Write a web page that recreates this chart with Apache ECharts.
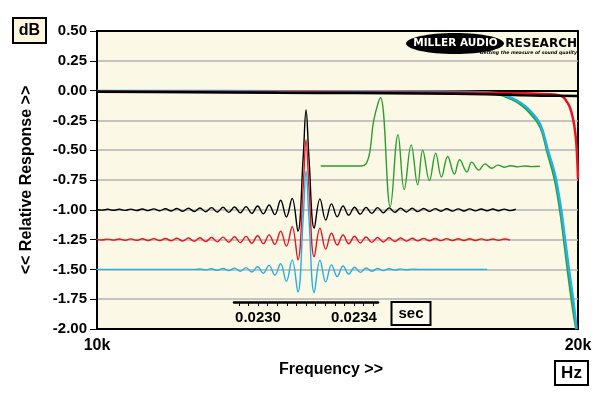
<!DOCTYPE html>
<html>
<head>
<meta charset="utf-8">
<title>Relative Response</title>
<script src="https://cdn.jsdelivr.net/npm/echarts@6/dist/echarts.min.js"></script>
<style>
html, body { margin: 0; padding: 0; background: #fff; }
#chart { width: 600px; height: 399px; }
</style>
</head>
<body>
<div id="chart"></div>
<script>
// frequency responses, Hz / dB
var cyanFreq = [10000, 12000, 14000, 16000, 17000, 17400, 17800, 18000, 18200, 18400, 18600, 18880, 19000, 19150, 19290, 19380, 19520, 19630, 19740, 19860, 19960];
var cyanDb = [-0.003, -0.004, -0.005, -0.007, -0.010, -0.013, -0.022, -0.040, -0.065, -0.100, -0.150, -0.250, -0.330, -0.500, -0.640, -0.750, -1.000, -1.250, -1.500, -1.750, -2.000];
var greenFreq = [10000, 12000, 14000, 16000, 17000, 17400, 17800, 18000, 18200, 18400, 18600, 18880, 19000, 19150, 19290, 19380, 19520, 19630, 19740, 19860, 19950];
var greenDb = [-0.006, -0.007, -0.008, -0.010, -0.013, -0.017, -0.027, -0.047, -0.074, -0.112, -0.166, -0.270, -0.350, -0.530, -0.680, -0.800, -1.060, -1.320, -1.580, -1.840, -2.000];
var redFreq = [10000, 11500, 13000, 14500, 16000, 17500, 18500, 19000, 19480, 19600, 19680, 19760, 19820, 19880, 19910, 19945, 19965, 19985, 20000];
var redDb = [-0.008, -0.010, -0.012, -0.013, -0.015, -0.018, -0.022, -0.028, -0.040, -0.060, -0.093, -0.135, -0.190, -0.270, -0.330, -0.420, -0.500, -0.620, -0.740];
var blackFreq = [10000, 11500, 13000, 14500, 16000, 17500, 18500, 19000, 20000];
var blackDb = [-0.010, -0.013, -0.018, -0.021, -0.025, -0.030, -0.040, -0.043, -0.045];

// impulse responses, time in microseconds, plotted offset values
var tImp = [22326, 22350, 22374, 22398, 22422, 22446, 22470, 22494, 22518, 22542,
  22566, 22590, 22614, 22638, 22662, 22686, 22710, 22734, 22758, 22782,
  22806, 22830, 22854, 22878, 22902, 22926, 22950, 22974, 22998, 23022,
  23046, 23070, 23094, 23118, 23142, 23166,
  23188, 23200, 23212,
  23234, 23258, 23282, 23306, 23330, 23354, 23378, 23402, 23426, 23450,
  23474, 23498, 23522, 23546, 23570, 23594, 23618, 23642, 23666, 23690,
  23714, 23738, 23762, 23786, 23810, 23834, 23858, 23882, 23906, 23930,
  23954, 23978, 24002, 24026, 24050, 24074];
var blackImp = [-0.997, -1.003, -0.996, -1.004, -0.995, -1.005, -0.994, -1.006, -0.993, -1.007,
  -0.992, -1.008, -0.991, -1.010, -0.989, -1.012, -0.987, -1.014, -0.985, -1.016,
  -0.982, -1.019, -0.979, -1.022, -0.976, -1.026, -0.973, -1.030, -0.968, -1.033,
  -0.960, -1.040, -0.920, -1.060, -0.905, -1.180,
  -0.560, -0.163, -0.560,
  -1.155, -0.908, -1.085, -0.950, -1.058, -0.968, -1.045, -0.978, -1.036, -0.980,
  -1.030, -0.982, -1.025, -0.984, -1.021, -0.986, -1.018, -0.987, -1.015, -0.989,
  -1.013, -0.990, -1.012, -0.991, -1.011, -0.992, -1.010, -0.992, -1.009, -0.993,
  -1.008, -0.993, -1.008, -0.994, -1.007, -0.994];
var redImp = [-1.248, -1.253, -1.246, -1.254, -1.245, -1.255, -1.244, -1.256, -1.243, -1.257,
  -1.242, -1.258, -1.241, -1.260, -1.239, -1.262, -1.237, -1.264, -1.235, -1.266,
  -1.232, -1.269, -1.229, -1.272, -1.226, -1.276, -1.223, -1.280, -1.218, -1.284,
  -1.210, -1.290, -1.180, -1.305, -1.142, -1.420,
  -0.810, -0.414, -0.810,
  -1.395, -1.155, -1.330, -1.197, -1.295, -1.212, -1.285, -1.222, -1.278, -1.228,
  -1.273, -1.232, -1.270, -1.235, -1.266, -1.237, -1.263, -1.239, -1.261, -1.240,
  -1.260, -1.241, -1.259, -1.242, -1.258, -1.243, -1.257, -1.243, -1.257, -1.244,
  -1.256, -1.245, -1.255, -1.245, -1.255];
var cyanImp = [-1.5, -1.5, -1.5, -1.5, -1.5, -1.5, -1.5, -1.5, -1.5, -1.5,
  -1.5, -1.5, -1.5, -1.5, -1.5, -1.5, -1.5, -1.5, -1.497, -1.504,
  -1.495, -1.507, -1.492, -1.510, -1.489, -1.515, -1.485, -1.522, -1.478, -1.532,
  -1.466, -1.548, -1.452, -1.600, -1.420, -1.690,
  -1.070, -0.676, -1.070,
  -1.695, -1.423, -1.605, -1.462, -1.560, -1.472, -1.540, -1.482, -1.525, -1.488,
  -1.515, -1.492, -1.510, -1.494, -1.506, -1.496, -1.504, -1.498, -1.5, -1.5,
  -1.5, -1.5, -1.5, -1.5, -1.5, -1.5, -1.5, -1.5, -1.5, -1.5,
  -1.5];
var greenT = [23261, 23430, 23450, 23466, 23482, 23510, 23551, 23583, 23609, 23638,
  23665, 23686, 23714, 23740, 23764, 23790, 23818, 23840, 23870, 23890,
  23920, 23945, 23974, 23999, 24028, 24053, 24082, 24111, 24140, 24174];
var greenImp = [-0.633, -0.633, -0.615, -0.510, -0.250, -0.060, -0.975, -0.370, -0.830, -0.455,
  -0.790, -0.500, -0.755, -0.525, -0.725, -0.553, -0.700, -0.580, -0.683, -0.600,
  -0.667, -0.615, -0.652, -0.625, -0.643, -0.630, -0.640, -0.632, -0.638, -0.635];

// time axis ticks (microseconds)
var secTicks = [22920, 22960, 23000, 23040, 23080, 23120, 23160, 23200, 23240, 23280, 23320, 23360, 23400, 23440, 23480];
var secLabels = [23000, 23400];

var FONT = '"Liberation Sans", Arial, sans-serif';
var BLACK = '#000000', RED = '#e8141e', CYAN = '#22b0e6', GREEN = '#2a9f2a';

function pairs(xs, ys) {
    return ys.map(function (v, i) { return [xs[i], v]; });
}

function frLine(name, xs, ys, color) {
    return {
        name: name, type: 'line', xAxisIndex: 0, yAxisIndex: 0,
        data: pairs(xs, ys), showSymbol: false, smooth: 0.3,
        lineStyle: {color: color, width: 2.5}
    };
}

function impLine(name, xs, ys, color) {
    return {
        name: name, type: 'line', xAxisIndex: 1, yAxisIndex: 0,
        data: pairs(xs, ys), showSymbol: false, smooth: 0.4,
        lineStyle: {color: color, width: 1.4}
    };
}

var boldText = {fontFamily: FONT, fontWeight: 'bold', color: '#000'};

var chart = echarts.init(document.getElementById('chart'));
chart.setOption({
    animation: false,
    backgroundColor: '#ffffff',
    grid: [
        {left: 97, right: 22, top: 31, bottom: 70, show: true,
         backgroundColor: '#fbf8e6', borderColor: '#000', borderWidth: 2},
        {left: 234, right: 222, top: 250, bottom: 97}
    ],
    xAxis: [
        {type: 'log', gridIndex: 0, min: 10000, max: 20000,
         name: 'Frequency >>', nameLocation: 'middle', nameGap: 33,
         nameTextStyle: Object.assign({fontSize: 16, padding: [0, 13, 0, 0]}, boldText),
         axisLine: {lineStyle: {color: '#000', width: 2}},
         axisTick: {length: 6, lineStyle: {color: '#000', width: 1}},
         axisLabel: Object.assign({fontSize: 16, margin: 9, formatter: function (v) {
             return Math.round(v / 1000) + 'k';
         }}, boldText),
         minorTick: {show: false}, splitLine: {show: false}},
        {type: 'value', gridIndex: 0, min: 22329, max: 24333, show: false},
        {type: 'value', gridIndex: 1, min: 22900, max: 23500, position: 'bottom',
         axisLine: {lineStyle: {color: '#000', width: 2.5}},
         axisTick: {length: 4, customValues: secTicks, lineStyle: {color: '#000', width: 1}},
         axisLabel: Object.assign({customValues: secLabels, fontSize: 15, margin: 8, formatter: function (v) {
             return (v / 1e6).toFixed(4);
         }}, boldText),
         splitLine: {show: false}}
    ],
    yAxis: [
        {type: 'value', gridIndex: 0, min: -2, max: 0.5, interval: 0.25,
         name: '<< Relative Response >>', nameLocation: 'middle', nameGap: 62,
         nameTextStyle: Object.assign({fontSize: 16}, boldText),
         axisLine: {show: true, lineStyle: {color: '#000', width: 2}},
         axisTick: {show: true, length: 7, lineStyle: {color: '#000', width: 1}},
         axisLabel: Object.assign({fontSize: 15, margin: 10, formatter: function (v) {
             return v.toFixed(2);
         }}, boldText),
         splitLine: {show: true, showMinLine: false, showMaxLine: false,
                     lineStyle: {color: '#b3b3b3', width: 1.5}}},
        {type: 'value', gridIndex: 1, min: 0, max: 1, show: false}
    ],
    series: [
        frLine('green fr', greenFreq, greenDb, GREEN),
        frLine('cyan fr', cyanFreq, cyanDb, CYAN),
        frLine('red fr', redFreq, redDb, RED),
        frLine('black fr', blackFreq, blackDb, BLACK),
        impLine('black imp', tImp, blackImp, BLACK),
        impLine('red imp', tImp, redImp, RED),
        impLine('cyan imp', tImp, cyanImp, CYAN),
        impLine('green imp', greenT, greenImp, GREEN)
    ],
    graphic: [
        {type: 'rect', z: 100, shape: {x: 13, y: 18, width: 33, height: 25},
         style: {fill: '#fcf7dc', stroke: '#000', lineWidth: 2}},
        {type: 'text', z: 101, x: 29.5, y: 31,
         style: {text: 'dB', font: 'bold 16px ' + FONT, fill: '#000', align: 'center', verticalAlign: 'middle'}},
        {type: 'rect', z: 100, shape: {x: 555, y: 361, width: 33, height: 24},
         style: {fill: '#ffffff', stroke: '#000', lineWidth: 2}},
        {type: 'text', z: 101, x: 571.5, y: 373.5,
         style: {text: 'Hz', font: 'bold 17px ' + FONT, fill: '#000', align: 'center', verticalAlign: 'middle'}},
        {type: 'rect', z: 100, shape: {x: 391.5, y: 302, width: 39, height: 23},
         style: {fill: '#fdfbee', stroke: '#000', lineWidth: 2}},
        {type: 'text', z: 101, x: 411, y: 313.5,
         style: {text: 'sec', font: 'bold 15px ' + FONT, fill: '#000', align: 'center', verticalAlign: 'middle'}},
        // logo
        {type: 'ellipse', z: 100, shape: {cx: 455, cy: 43.5, rx: 49, ry: 10.5}, style: {fill: '#000'}},
        {type: 'text', z: 101, x: 455.5, y: 43.5,
         style: {text: 'MILLER AUDIO', font: 'bold 10.5px "DejaVu Sans"', fill: '#fff', align: 'center', verticalAlign: 'middle'}},
        {type: 'text', z: 101, x: 577, y: 43.5,
         style: {text: 'RESEARCH', font: 'bold 12px "DejaVu Sans"', fill: '#000', align: 'right', verticalAlign: 'middle'}},
        {type: 'text', z: 101, x: 577, y: 52.5,
         style: {text: 'Getting the measure of sound quality', font: 'italic bold 4.6px "DejaVu Sans"', fill: '#000', align: 'right', verticalAlign: 'middle'}}
    ]
});
</script>
</body>
</html>
